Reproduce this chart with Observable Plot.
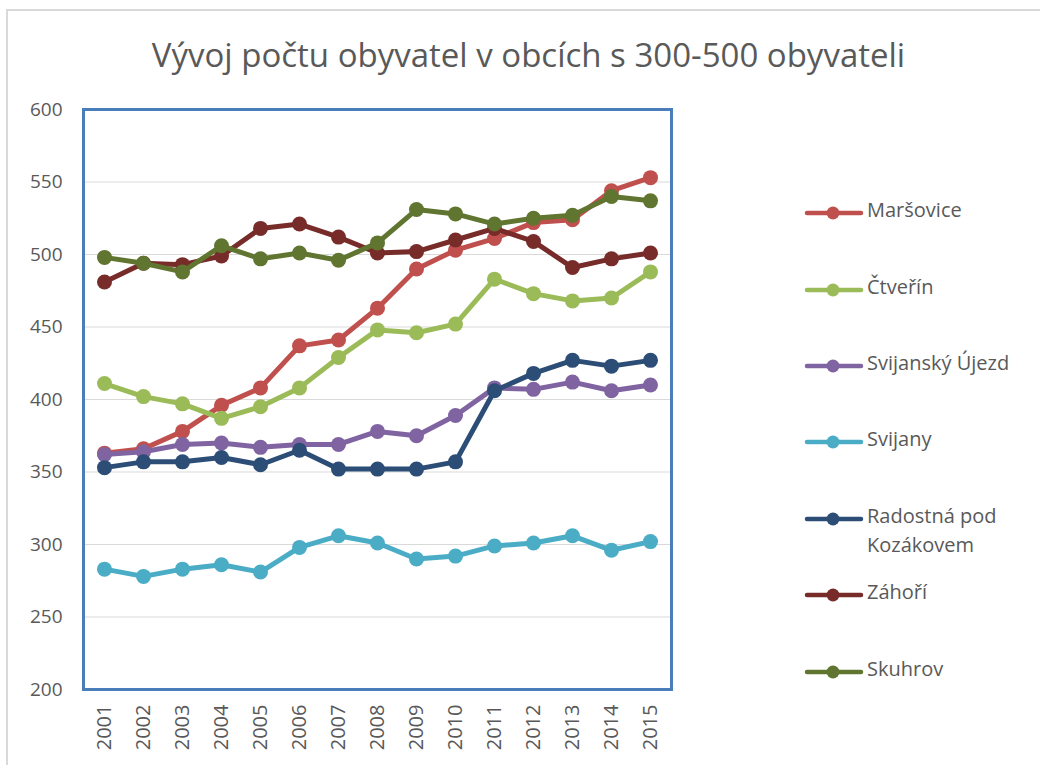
<!DOCTYPE html>
<html>
<head>
<meta charset="utf-8">
<script src="https://cdn.jsdelivr.net/npm/d3@7"></script>
<script src="https://cdn.jsdelivr.net/npm/@observablehq/plot@0.6"></script>
<style>
  html, body { margin: 0; padding: 0; background: #fff; }
  #wrap { position: relative; width: 1040px; height: 765px; overflow: hidden; font-family: "Open Sans", sans-serif; color: #595959; }
  #border { position: absolute; left: 6px; top: 9px; width: 1100px; height: 800px; border-left: 2px solid #d9d9d9; border-top: 2px solid #d9d9d9; }
  #title { position: absolute; left: 0; top: 32px; width: 1057px; text-align: center; font-size: 33px; font-weight: 400; color: #595959; white-space: nowrap; }
  #chart { position: absolute; left: 0; top: 0; }
  #legend { position: absolute; left: 0; top: 0; width: 1040px; height: 765px; }
  .lg-item { position: absolute; left: 806px; width: 240px; display: flex; align-items: flex-start; white-space: nowrap; }
  .lg-text { font-size: 20px; line-height: 29px; color: #595959; margin-left: 5px; margin-top: -14px; white-space: nowrap; }
</style>
</head>
<body>
<div id="wrap">
  <div id="border"></div>
  <div id="title">Vývoj počtu obyvatel v obcích s 300-500 obyvateli</div>
  <div id="chart"></div>
  <div id="legend"></div>
</div>
<script>
const years = [2001, 2002, 2003, 2004, 2005, 2006, 2007, 2008, 2009, 2010, 2011, 2012, 2013, 2014, 2015];

const seriesNames = ["Maršovice", "Čtveřín", "Svijanský Újezd", "Svijany", "Radostná pod Kozákovem", "Záhoří", "Skuhrov"];
const legendLabels = ["Maršovice", "Čtveřín", "Svijanský Újezd", "Svijany", "Radostná pod<br>Kozákovem", "Záhoří", "Skuhrov"];
const seriesColors = ["#C0504D", "#9BBB59", "#8064A2", "#4BACC6", "#2C4D75", "#772C2A", "#5F7530"];

const marsovice      = [363, 366, 378, 396, 408, 437, 441, 463, 490, 503, 511, 522, 524, 544, 553];
const ctverin        = [411, 402, 397, 387, 395, 408, 429, 448, 446, 452, 483, 473, 468, 470, 488];
const svijanskyUjezd = [362, 364, 369, 370, 367, 369, 369, 378, 375, 389, 408, 407, 412, 406, 410];
const svijany        = [283, 278, 283, 286, 281, 298, 306, 301, 290, 292, 299, 301, 306, 296, 302];
const radostna       = [353, 357, 357, 360, 355, 365, 352, 352, 352, 357, 406, 418, 427, 423, 427];
const zahori         = [481, 494, 493, 499, 518, 521, 512, 501, 502, 510, 518, 509, 491, 497, 501];
const skuhrov        = [498, 494, 488, 506, 497, 501, 496, 508, 531, 528, 521, 525, 527, 540, 537];

const yTicks = [200, 250, 300, 350, 400, 450, 500, 550, 600];
const gridTicks = [250, 300, 350, 400, 450, 500, 550];

const allValues = [marsovice, ctverin, svijanskyUjezd, svijany, radostna, zahori, skuhrov];

const rows = [];
seriesNames.forEach((name, i) => {
  years.forEach((yr, j) => rows.push({series: name, year: yr, value: allValues[i][j]}));
});

const seriesMarks = [];
seriesNames.forEach((name, i) => {
  const d = rows.filter(r => r.series === name);
  seriesMarks.push(Plot.line(d, {x: "year", y: "value", stroke: seriesColors[i], strokeWidth: 5, strokeLinejoin: "round", strokeLinecap: "round"}));
  seriesMarks.push(Plot.dot(d, {x: "year", y: "value", fill: seriesColors[i], r: 7.5, stroke: "none"}));
});

const chart = Plot.plot({
  width: 1040,
  height: 765,
  marginLeft: 83,
  marginRight: 369,
  marginTop: 109,
  marginBottom: 76,
  style: {fontFamily: "Open Sans, sans-serif", background: "transparent", color: "#595959"},
  x: {type: "point", domain: years, padding: 0.5},
  y: {domain: [200, 600]},
  marks: [
    Plot.gridY(gridTicks, {stroke: "#d9d9d9", strokeOpacity: 1, strokeWidth: 1.2}),
    Plot.axisY(yTicks, {tickSize: 0, tickPadding: 21, fontSize: 19, fill: "#595959", label: null}),
    Plot.axisX(years, {tickSize: 0, tickPadding: 15, tickRotate: -90, fontSize: 20, fill: "#595959", label: null, tickFormat: d => String(d)}),
    ...seriesMarks,
    Plot.frame({stroke: "#4A7EBB", strokeWidth: 3})
  ]
});
document.getElementById("chart").appendChild(chart);

// Legend
const legendY = [213, 290, 366, 442, 519, 595, 672];
const legend = document.getElementById("legend");
seriesNames.forEach((name, i) => {
  const item = document.createElement("div");
  item.className = "lg-item";
  item.style.top = (legendY[i] - 4) + "px";
  const svg = d3.create("svg").attr("width", 56).attr("height", 8).style("overflow", "visible").style("flex", "none");
  svg.append("line").attr("x1", 1).attr("x2", 55).attr("y1", 4).attr("y2", 4)
    .attr("stroke", seriesColors[i]).attr("stroke-width", 4.5).attr("stroke-linecap", "round");
  svg.append("circle").attr("cx", 27).attr("cy", 4).attr("r", 6.5).attr("fill", seriesColors[i]);
  item.appendChild(svg.node());
  const t = document.createElement("div");
  t.className = "lg-text";
  t.innerHTML = legendLabels[i];
  item.appendChild(t);
  legend.appendChild(item);
});
</script>
</body>
</html>
